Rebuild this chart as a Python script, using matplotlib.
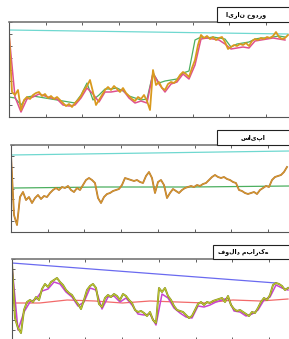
import numpy as np
import matplotlib
matplotlib.use("Agg")
import matplotlib.pyplot as plt
from matplotlib.patches import Rectangle

# panel titles
titles = ["ایران خودرو", "سایپا", "فولاد مبارکه"]

# panel 1 - ایران خودرو
p1_price = [85, 25, 22, 27, 7, 17, 20, 18, 22, 24, 25, 21, 23, 19, 21, 18, 20, 17, 14, 11,
            13, 10, 14, 17, 21, 27, 31, 37, 25, 12, 17, 22, 27, 30, 27, 31, 28, 25, 29, 24,
            21, 18, 16, 20, 18, 22, 16, 7, 47, 32, 35, 29, 27, 33, 35, 34, 37, 42, 45, 43,
            40, 49, 57, 72, 82, 79, 81, 78, 80, 77, 79, 80, 75, 68, 70, 72, 71, 73, 72, 74,
            71, 76, 78, 77, 79, 78, 80, 79, 81, 85, 80, 78, 79, 82]
p1_pink = [83, 20, 5, 18, 20, 23, 21, 19, 18, 12, 11, 12, 19, 29, 23, 15, 25, 25, 26, 27,
           19, 14, 16, 14, 44, 33, 25, 33, 35, 43, 38, 52, 78, 79, 78, 77, 73, 68, 69, 70,
           69, 76, 77, 78, 79, 78, 77]
p1_green = [20, 19, 12, 20, 21, 20, 19, 18, 17, 16, 15, 14, 22, 34, 17, 22, 28, 28, 29, 26,
            21, 19, 17, 18, 44, 34, 36, 37, 38, 44, 46, 77, 80, 79, 80, 79, 78, 70, 73, 74,
            75, 78, 79, 79, 80, 81, 80]
p1_cyan = [87, 83]

# panel 2 - سایپا
p2_price = [77, 17, 7, 35, 40, 32, 35, 29, 34, 37, 33, 36, 35, 39, 42, 44, 42, 45, 44, 46,
            42, 40, 44, 42, 47, 52, 54, 52, 49, 34, 29, 35, 38, 39, 41, 42, 43, 47, 54, 53,
            52, 51, 52, 50, 49, 56, 60, 54, 39, 50, 52, 47, 34, 39, 43, 41, 39, 42, 44, 45,
            46, 45, 47, 46, 48, 49, 52, 55, 57, 55, 54, 55, 53, 52, 50, 49, 42, 41, 39, 38,
            39, 40, 38, 42, 44, 46, 45, 52, 55, 56, 57, 60, 65]
p2_green = [44, 45, 45, 46]
p2_cyan = [77, 81]

# panel 3 - فولاد مبارکه
p3_price = [76, 22, 12, 7, 30, 38, 40, 38, 43, 40, 51, 56, 53, 58, 60, 62, 58, 55, 50, 47,
            45, 40, 36, 31, 40, 50, 54, 56, 52, 36, 33, 42, 45, 43, 46, 44, 40, 46, 44, 40,
            37, 30, 28, 29, 27, 24, 28, 20, 17, 52, 48, 52, 44, 40, 34, 30, 29, 28, 25, 22,
            24, 30, 36, 38, 35, 38, 37, 39, 40, 41, 42, 38, 44, 35, 31, 29, 30, 28, 26, 24,
            28, 27, 32, 38, 42, 40, 45, 55, 57, 56, 54, 50, 52]
p3_magenta = [74, 10, 28, 38, 41, 49, 51, 58, 56, 48, 43, 34, 38, 52, 50, 31, 43, 44, 38, 42,
              35, 26, 25, 26, 15, 46, 42, 32, 27, 23, 22, 34, 33, 35, 38, 40, 42, 29, 28, 24,
              26, 30, 40, 43, 55, 52, 50]
p3_red = [37, 37, 40, 39, 37, 39, 38, 37, 40, 39, 41]
p3_blue = [77, 57]

W, H = 289, 339
fig = plt.figure(figsize=(W / 100, H / 100), dpi=100)


def make_axes(left, top, bottom, ymax):
    # axes placed in pixel units, right side runs off the picture
    width = 294
    ax = fig.add_axes([left / W, 1 - bottom / H, width / W, (bottom - top) / H])
    ax.set_xlim(0, 98)
    ax.set_ylim(0, ymax)
    ax.set_xticks(np.linspace(0, 98, 9))
    ax.set_yticks(np.linspace(0, ymax, 9))
    ax.tick_params(direction="in", length=2, width=0.6, color="#444444",
                   top=True, bottom=True, left=True, right=False,
                   labelbottom=False, labelleft=False)
    for s in ax.spines.values():
        s.set_color("#555555")
        s.set_linewidth(0.8)
    ax.spines["top"].set_color("#777777")
    ax.spines["top"].set_linewidth(1.2)
    return ax


def title_box(text, left, top, bottom, tx):
    fig.patches.append(Rectangle((left / W, 1 - bottom / H), 100 / W, (bottom - top) / H,
                                 transform=fig.transFigure, facecolor="white",
                                 edgecolor="#222222", linewidth=0.8, zorder=5))
    fig.text(tx / W, 1 - (top + bottom) / 2 / H, text, ha="center", va="center",
             fontsize=4.5, fontweight="bold", family=["DejaVu Sans"], zorder=6)


# panel 1
ax1 = make_axes(9, 22, 117, 95)
ax1.plot([0, 93], p1_cyan, color="#6fd8d0", lw=0.9)
ax1.plot(np.arange(len(p1_green)) * 2, p1_green, color="#4caf5f", lw=0.9)
ax1.plot(np.arange(len(p1_pink)) * 2, p1_pink, color="#e0508f", lw=1.1)
ax1.plot(np.arange(len(p1_price)), p1_price, color="#d99a1e", lw=1.3)
title_box(titles[0], 217, 7, 22, 246)

# panel 2
ax2 = make_axes(11, 145, 232, 87)
ax2.plot([0, 93], p2_cyan, color="#6fd8d0", lw=0.9)
ax2.plot([1, 30, 60, 93], p2_green, color="#4caf5f", lw=0.9)
ax2.plot(np.arange(len(p2_price)), p2_price, color="#b5702a", lw=1.3)
ax2.plot(np.arange(len(p2_price)), p2_price, color="#d9a030", lw=0.6)
title_box(titles[1], 217, 130, 145, 253)

# panel 3
ax3 = make_axes(12, 259, 340, 81)
ax3.plot([0, 88], p3_blue, color="#6a6af0", lw=0.9)
ax3.plot(np.linspace(0, 92, len(p3_red)), p3_red, color="#f26a6a", lw=0.9)
ax3.plot(np.arange(len(p3_magenta)) * 2, p3_magenta, color="#c845d0", lw=1.1)
ax3.plot(np.arange(len(p3_price)), p3_price, color="#7d8a1e", lw=1.4)
ax3.plot(np.arange(len(p3_price)), p3_price, color="#c4c830", lw=0.7)
title_box(titles[2], 213, 245, 259, 243)

fig.savefig("out.png", dpi=100)
